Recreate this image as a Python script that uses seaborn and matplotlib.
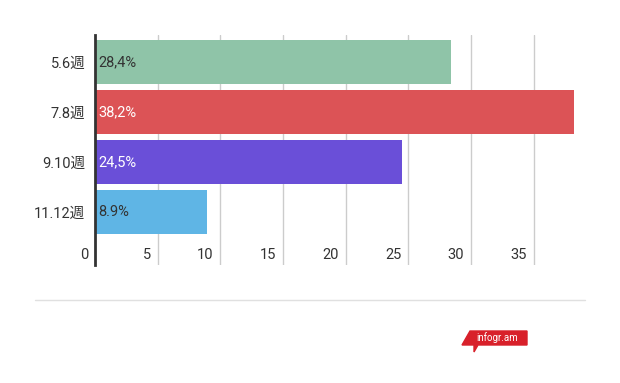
import matplotlib
matplotlib.use("Agg")
import matplotlib.pyplot as plt
import seaborn as sns
import pandas as pd
from matplotlib.patches import Polygon

categories = ["5.6週", "7.8週", "9.10週", "11.12週"]
values = [28.4, 38.2, 24.5, 8.9]
value_labels = ["28,4%", "38,2%", "24,5%", "8.9%"]
colors = ["#8fc4a8", "#dc5356", "#6a4fd8", "#5fb5e5"]
label_colors = ["#333333", "#ffffff", "#ffffff", "#333333"]
xticks = [0, 5, 10, 15, 20, 25, 30, 35]

sns.set_theme(style="white")
plt.rcParams["font.family"] = ["Roboto", "Noto Sans CJK JP", "DejaVu Sans"]

df = pd.DataFrame({"cat": categories, "val": values})

fig = plt.figure(figsize=(6.2, 3.83), dpi=100)
W, H = 620, 383
ax = fig.add_axes([95 / W, 1 - 265 / H, (575 - 95) / W, (265 - 35) / H])

sns.barplot(data=df, y="cat", x="val", hue="cat", palette=colors, orient="h",
            width=0.88, ax=ax, legend=False, saturation=1, linewidth=0)

ax.set_xlim(0, 38.3)
ax.set_ylim(4.06, -0.54)
ax.set_xlabel("")
ax.set_ylabel("")

for x in xticks[1:]:
    ax.axvline(x, color="#cccccc", lw=1, zorder=0)

for s in ["top", "right", "bottom"]:
    ax.spines[s].set_visible(False)
ax.spines["left"].set_color("#333333")
ax.spines["left"].set_linewidth(2)
ax.spines["left"].set_zorder(5)

ax.set_xticks([])
ax.tick_params(axis="y", length=0, pad=7, labelsize=10.5, labelcolor="#333333")

for i, (v, lab, c) in enumerate(zip(values, value_labels, label_colors)):
    ax.annotate(lab, xy=(0, i), xytext=(2.5, 0), textcoords="offset points",
                ha="left", va="center", fontsize=10.5, color=c)

for x in xticks:
    ax.annotate(str(x), xy=(x, 3.86), xytext=(-5, 0), textcoords="offset points",
                ha="right", va="center", fontsize=10.5, color="#333333")

# separator line
fig.add_artist(plt.Line2D([35 / W, 585 / W], [1 - 300 / H, 1 - 300 / H],
                          color="#e0e0e0", lw=1))

# infogr.am badge
badge = Polygon([(470 / W, 1 - 331 / H), (527 / W, 1 - 331 / H), (527 / W, 1 - 345 / H),
                 (478 / W, 1 - 345 / H), (474 / W, 1 - 352 / H), (474 / W, 1 - 345 / H),
                 (462 / W, 1 - 345 / H)],
                closed=True, transform=fig.transFigure, color="#d8202a")
fig.add_artist(badge)
fig.text(497 / W, 1 - 338 / H, "infogr.am", ha="center", va="center",
         fontsize=7, color="white")

fig.savefig("out.png", dpi=100)
